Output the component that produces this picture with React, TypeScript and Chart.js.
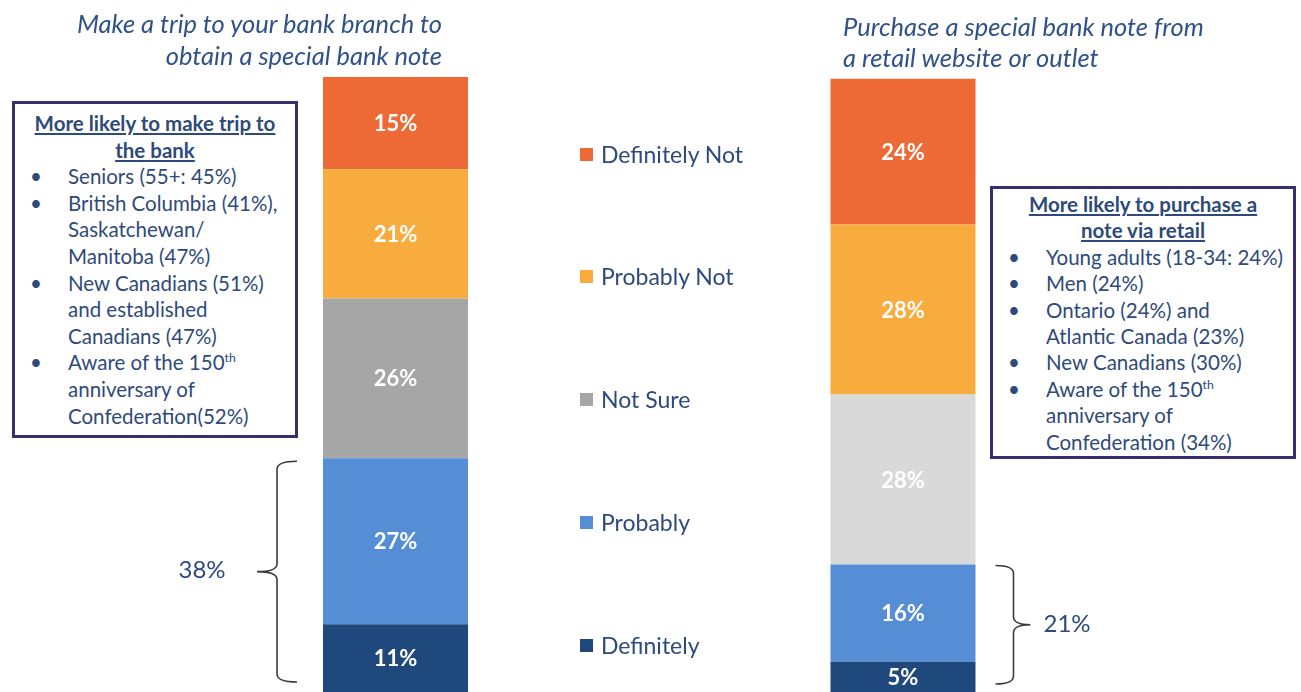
import React, { useEffect, useRef } from "react";
import { Chart, registerables } from "chart.js";

Chart.register(...registerables);

const categories = ["Make a trip to your bank branch", "Purchase via retail"];
const seriesNames = ["Definitely", "Probably", "Not Sure", "Probably Not", "Definitely Not"];
const tripValues = [11, 27, 26, 21, 15];
const retailValues = [5, 16, 28, 28, 24];
const seriesColors = ["#1F497D", "#558ED5", "#A6A6A6", "#F9AC3E", "#ED6A36"];
const retailColors = ["#1F497D", "#558ED5", "#D9D9D9", "#F9AC3E", "#ED6A36"];
const tripLikely = 38;
const retailLikely = 21;
const legendOrder = ["Definitely Not", "Probably Not", "Not Sure", "Probably", "Definitely"];
const leftTitle = ["Make a trip to your bank branch to", "obtain a special bank note"];
const rightTitle = ["Purchase a special bank note from", "a retail website or outlet"];
const leftBoxHeader = ["More likely to make trip to", "the bank"];
const leftBoxItems = [
  ["Seniors (55+: 45%)"],
  ["British Columbia (41%),", "Saskatchewan/", "Manitoba (47%)"],
  ["New Canadians (51%)", "and established", "Canadians (47%)"],
  ["Aware of the 150|th", "anniversary of", "Confederation(52%)"],
];
const rightBoxHeader = ["More likely to purchase a", "note via retail"];
const rightBoxItems = [
  ["Young adults (18-34: 24%)"],
  ["Men (24%)"],
  ["Ontario (24%) and", "Atlantic Canada (23%)"],
  ["New Canadians (30%)"],
  ["Aware of the 150|th", "anniversary of", "Confederation (34%)"],
];

const TEXT = "#2E4A7B";
const FONT = "Lato, 'Open Sans', sans-serif";

function drawBrace(ctx: CanvasRenderingContext2D, hookX: number, lineX: number, tipX: number, top: number, bottom: number) {
  const mid = (top + bottom) / 2;
  const r = 8;
  ctx.beginPath();
  ctx.moveTo(hookX, top);
  ctx.quadraticCurveTo(lineX, top, lineX, top + r);
  ctx.lineTo(lineX, mid - r);
  ctx.quadraticCurveTo(lineX, mid, tipX, mid);
  ctx.quadraticCurveTo(lineX, mid, lineX, mid + r);
  ctx.lineTo(lineX, bottom - r);
  ctx.quadraticCurveTo(lineX, bottom, hookX, bottom);
  ctx.stroke();
}

const overlayPlugin = {
  id: "overlay",
  afterDatasetsDraw(chart: any) {
    const ctx = chart.ctx as CanvasRenderingContext2D;
    ctx.save();
    ctx.fillStyle = "#FFFFFF";
    ctx.font = `bold 22px ${FONT}`;
    ctx.textAlign = "center";
    ctx.textBaseline = "middle";
    chart.data.datasets.forEach((ds: any, di: number) => {
      const meta = chart.getDatasetMeta(di);
      meta.data.forEach((bar: any, i: number) => {
        const v = ds.data[i];
        if (v === null || v === undefined) return;
        ctx.fillText(`${v}%`, bar.x, (bar.y + bar.base) / 2 + 1);
      });
    });
    // braces
    const y = chart.scales.y;
    const y2 = chart.scales.y2;
    const leftBar = chart.getDatasetMeta(0).data[0];
    const rightBar = chart.getDatasetMeta(5).data[1];
    ctx.strokeStyle = "#3A3A3A";
    ctx.lineWidth = 1.6;
    const lTop = y.getPixelForValue(tripLikely) + 3;
    const lBot = y.getPixelForValue(0) - 10;
    const lx = leftBar.x - leftBar.width / 2;
    drawBrace(ctx, lx - 26, lx - 46, lx - 66, lTop, lBot);
    const rTop = y2.getPixelForValue(retailLikely) + 1;
    const rBot = y2.getPixelForValue(0) - 8;
    const rx = rightBar.x + rightBar.width / 2;
    drawBrace(ctx, rx + 20, rx + 38, rx + 55, rTop, rBot);
    ctx.fillStyle = TEXT;
    ctx.font = `24px ${FONT}`;
    ctx.textAlign = "center";
    ctx.fillText(`${tripLikely}%`, lx - 121, (lTop + lBot) / 2 - 1);
    ctx.textAlign = "left";
    ctx.fillText(`${retailLikely}%`, rx + 68, (rTop + rBot) / 2);
    ctx.restore();
  },
};

function Line({ text }: { text: string }) {
  const [main, sup] = text.split("|");
  return (
    <span>
      {main}
      {sup ? <sup style={{ fontSize: "0.6em", verticalAlign: "top", position: "relative", top: "-4px" }}>{sup}</sup> : null}
    </span>
  );
}

function InfoBox({ left, top, width, height, header, items, lineHeight, marginTop }: any) {
  return (
    <div
      style={{
        position: "absolute",
        left,
        top,
        width,
        height,
        border: "3px solid #3A2D6E",
        boxSizing: "border-box",
        fontFamily: FONT,
        fontSize: 20.5,
        color: TEXT,
        lineHeight: `${lineHeight}px`,
        background: "#fff",
        overflow: "hidden",
      }}
    >
      <div style={{ textAlign: "center", fontWeight: "bold", textDecoration: "underline", marginTop, whiteSpace: "nowrap" }}>
        {header.map((h: string, i: number) => (
          <div key={i}>{h}</div>
        ))}
      </div>
      {items.map((lines: string[], i: number) => (
        <div key={i} style={{ position: "relative", paddingLeft: 53 }}>
          <span style={{ position: "absolute", left: 15 }}>•</span>
          {lines.map((l, j) => (
            <div key={j} style={{ whiteSpace: "nowrap" }}>
              <Line text={l} />
            </div>
          ))}
        </div>
      ))}
    </div>
  );
}

export default function App() {
  const canvasRef = useRef<HTMLCanvasElement>(null);

  useEffect(() => {
    const datasets: any[] = [];
    seriesNames.forEach((name, i) => {
      datasets.push({
        label: name,
        data: [tripValues[i], null],
        backgroundColor: seriesColors[i],
        yAxisID: "y",
        stack: "a",
      });
    });
    seriesNames.forEach((name, i) => {
      datasets.push({
        label: name + " (retail)",
        data: [null, retailValues[i]],
        backgroundColor: retailColors[i],
        yAxisID: "y2",
        stack: "a",
      });
    });
    const chart = new Chart(canvasRef.current!, {
      type: "bar",
      data: { labels: categories, datasets },
      options: {
        responsive: false,
        animation: false,
        layout: { padding: { left: 141.75, right: 144.25, top: 77, bottom: 0 } },
        datasets: { bar: { barPercentage: 1, categoryPercentage: 0.2857, borderWidth: 0 } },
        plugins: { legend: { display: false }, tooltip: { enabled: false } },
        scales: {
          x: { stacked: true, display: false, grid: { display: false } },
          y: { stacked: true, display: false, min: 0, max: 100 },
          y2: { stacked: true, display: false, min: 0, max: 101.3 },
        },
      } as any,
      plugins: [overlayPlugin],
    });
    return () => chart.destroy();
  }, []);

  const legendTops = [154, 276, 399, 522, 645];
  const legendColorOf = (name: string) => seriesColors[seriesNames.indexOf(name)];

  return (
    <div style={{ position: "absolute", left: 0, top: 0, width: 1301, height: 692, overflow: "hidden", background: "#fff" }}>
      <canvas ref={canvasRef} width={1301} height={692} style={{ position: "absolute", left: 0, top: 0, display: "block" }} />
      <div
        style={{
          position: "absolute",
          right: 1301 - 442,
          top: 7,
          textAlign: "right",
          fontFamily: FONT,
          fontStyle: "italic",
          fontSize: 25.5,
          lineHeight: "32px",
          color: "#2F5288",
          whiteSpace: "nowrap",
        }}
      >
        {leftTitle.map((t, i) => (
          <div key={i}>{t}</div>
        ))}
      </div>
      <div
        style={{
          position: "absolute",
          left: 843,
          top: 11,
          textAlign: "left",
          fontFamily: FONT,
          fontStyle: "italic",
          fontSize: 25.5,
          lineHeight: "31px",
          color: "#2F5288",
          whiteSpace: "nowrap",
        }}
      >
        {rightTitle.map((t, i) => (
          <div key={i}>{t}</div>
        ))}
      </div>
      <InfoBox left={12} top={101} width={286} height={337} header={leftBoxHeader} items={leftBoxItems} lineHeight={26.6} marginTop={6} />
      <InfoBox left={990} top={186} width={306} height={273} header={rightBoxHeader} items={rightBoxItems} lineHeight={26.4} marginTop={2} />
      {legendOrder.map((name, i) => (
        <div
          key={name}
          style={{
            position: "absolute",
            left: 580,
            top: legendTops[i] - 15,
            height: 30,
            display: "flex",
            alignItems: "center",
            fontFamily: FONT,
            fontSize: 23,
            color: TEXT,
            whiteSpace: "nowrap",
          }}
        >
          <span style={{ width: 13, height: 13, background: legendColorOf(name), display: "inline-block", marginRight: 8 }} />
          {name}
        </div>
      ))}
    </div>
  );
}
